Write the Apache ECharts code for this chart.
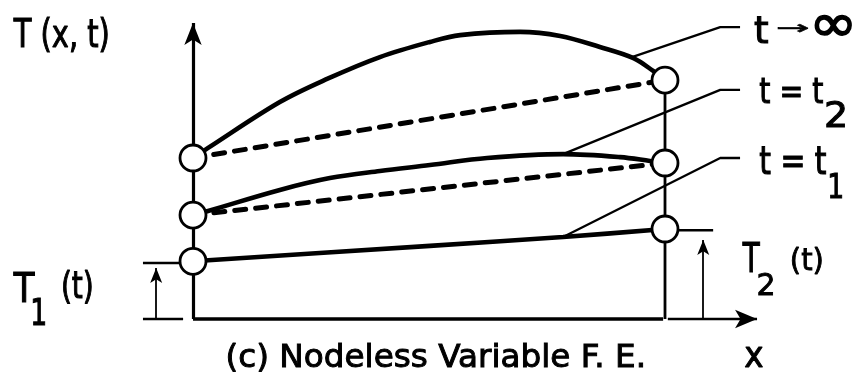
<!DOCTYPE html>
<html>
<head>
<meta charset="utf-8">
<script src="https://cdn.jsdelivr.net/npm/echarts@6/dist/echarts.min.js"></script>
<style>html,body{margin:0;padding:0;background:#fff;}#c{width:855px;height:381px;}</style>
</head>
<body>
<div id="c"></div>
<script>
// ---- data (x: position along element, node 1 = 0, node 2 = 1; y: temperature T) ----
const infCurve = [[0,5.44],[0.032,5.78],[0.184,7.33],[0.284,8.11],[0.396,8.85],[0.502,9.36],[0.566,9.59],[0.693,9.70],[0.778,9.56],[0.862,9.19],[0.932,8.82],[0.975,8.38],[1,8.07]];
const t2Curve  = [[0,3.51],[0.032,3.65],[0.184,4.36],[0.290,4.76],[0.396,5.00],[0.502,5.20],[0.623,5.44],[0.784,5.57],[0.905,5.47],[0.968,5.34],[1,5.27]];
const t1Curve  = [[0,1.95],[0.502,2.47],[0.784,2.77],[1,3.04]];
const infDash  = [[0,5.44],[1,8.07]];
const t2Dash   = [[0,3.51],[1,5.27]];
const nodes    = [[0,5.44],[0,3.51],[0,1.95],[1,8.07],[1,5.27],[1,3.04]];
const leaderInf = [[0.930,8.85],[1.117,9.86],[1.159,9.86]];
const leaderT2  = [[0.784,5.57],[1.117,7.74],[1.159,7.74]];
const leaderT1  = [[0.784,2.77],[1.117,5.44],[1.159,5.44]];
const T1level = 1.89;
const T2level = 3.0;
const curveLabels = ['t → ∞', 't = t', 't = t'];

// ---- chart ----
const chart = echarts.init(document.getElementById('c'), null, {renderer:'canvas'});
const BLACK = '#000';

function lineSeries(data, width, extra) {
  return Object.assign({
    type:'line', data:data, showSymbol:false, symbol:'none', clip:false, silent:true,
    animation:false, lineStyle:{color:BLACK, width:width}, z:3
  }, extra || {});
}
function arrowSeries(from, to, width, size) {
  return {
    type:'line', data:[], clip:false, silent:true, animation:false, z:4,
    markLine:{
      silent:true, animation:false, symbol:['none','arrow'], symbolSize:size,
      label:{show:false}, emphasis:{disabled:true},
      lineStyle:{color:BLACK, width:width, type:'solid', opacity:1},
      data:[[{coord:from},{coord:to}]]
    }
  };
}

const series = [
  // frame / axes
  lineSeries([[0,0],[0.996,0]], 3.6),
  lineSeries([[-0.106,0],[-0.021,0]], 2.6),
  lineSeries([[-0.106,T1level],[-0.028,T1level]], 2.6),
  lineSeries([[1,nodes[3][1]],[1,0]], 2.8),
  lineSeries([[1.028,T2level],[1.102,T2level]], 2.6),
  arrowSeries([0,0],[0,10], 3.2, [13,22]),
  arrowSeries([1.006,0],[1.195,0], 2.4, [14,22]),
  arrowSeries([-0.078,0],[-0.078,1.72], 1.8, [9,15]),
  arrowSeries([1.081,0],[1.081,2.67], 1.8, [9,15]),
  // curves
  lineSeries(infCurve, 4.6, {smooth:0.35}),
  lineSeries(t2Curve, 4.6, {smooth:0.35}),
  lineSeries(t1Curve, 4.6, {smooth:0.3}),
  lineSeries(infDash, 5, {lineStyle:{color:BLACK, width:5, type:[11,10], cap:'round'}}),
  lineSeries(t2Dash, 5, {lineStyle:{color:BLACK, width:5, type:[11,10], cap:'round'}}),
  // leaders
  lineSeries(leaderInf, 2.3),
  lineSeries(leaderT2, 2.3),
  lineSeries(leaderT1, 2.3),
  // nodes
  {type:'scatter', data:nodes, symbol:'circle', symbolSize:26, silent:true, animation:false, clip:false, z:10,
   itemStyle:{color:'#fff', borderColor:BLACK, borderWidth:2.8, opacity:1}}
];

// ---- text fitting helper (positions only) ----
const mctx = document.createElement('canvas').getContext('2d');
function fitText(str, box, mode) {
  const fs = 40;
  const font = 'normal ' + fs + 'px "DejaVu Sans"';
  mctx.font = font; mctx.textBaseline = 'middle'; mctx.textAlign = 'left';
  const m = mctx.measureText(str);
  const ref = mode === 'ink' ? m : mctx.measureText('H');
  const inkW = m.actualBoundingBoxLeft + m.actualBoundingBoxRight;
  const refH = ref.actualBoundingBoxAscent + ref.actualBoundingBoxDescent;
  const sx = (box[2]-box[0]) / inkW, sy = (box[3]-box[1]) / refH;
  return {
    type:'text', silent:true,
    x: box[0] + sx*m.actualBoundingBoxLeft,
    y: box[1] + sy*ref.actualBoundingBoxAscent,
    scaleX: sx, scaleY: sy,
    style:{text:str, font:font, fill:BLACK, stroke:BLACK, lineWidth:1.2,
           align:'left', verticalAlign:'middle', textAlign:'left', textVerticalAlign:'middle'}
  };
}
const infParts = curveLabels[0].split(' ');   // ['t', '→', '∞']
const texts = [
  fitText('T (x, t)', [13,18,108,47]),
  fitText(infParts[0], [755,15,768,43]),
  fitText(infParts[1], [778,24,808,33], 'ink'),
  fitText(infParts[2], [815,15,851,36], 'ink'),
  fitText(curveLabels[1], [760,77,823,103]),
  fitText('2', [826,100,845,127]),
  fitText(curveLabels[2], [760,145,826,174]),
  fitText('1', [830,173,842,198]),
  fitText('T', [13,272,35,302]),
  fitText('1', [33,297,45,325]),
  fitText('(t)', [63,270,92,298]),
  fitText('T', [742,242,760,272]),
  fitText('2', [758,272,773,295]),
  fitText('(t)', [792,247,822,270]),
  fitText('(c) Nodeless Variable F. E.', [228,343,643,367]),
  fitText('x', [745,347,763,367], 'ink')
];

const PX = 472, PY = 29.6;           // px per data unit (layout)
const xMin = -0.4, xMax = 1.4, yMin = -0.5, yMax = 10.5;
chart.setOption({
  animation:false,
  backgroundColor:'#fff',
  grid:{left:193 + xMin*PX, right:855 - (193 + xMax*PX), top:23 - (yMax-10)*PY, bottom:381 - (319 - yMin*PY)},
  xAxis:{type:'value', min:xMin, max:xMax, show:false},
  yAxis:{type:'value', min:yMin, max:yMax, show:false},
  series:series,
  graphic:texts
});
</script>
</body>
</html>
